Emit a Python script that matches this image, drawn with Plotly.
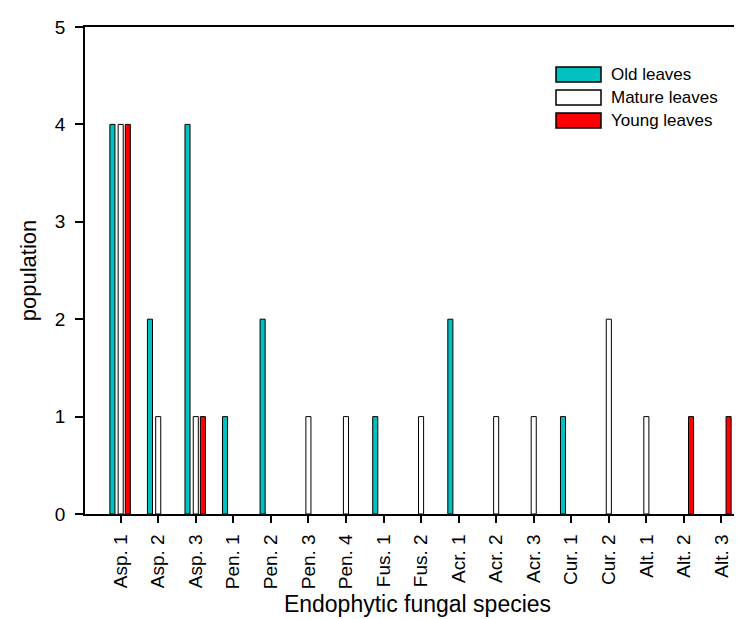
import plotly.graph_objects as go

categories = ["Asp. 1", "Asp. 2", "Asp. 3", "Pen. 1", "Pen. 2", "Pen. 3", "Pen. 4",
              "Fus. 1", "Fus. 2", "Acr. 1", "Acr. 2", "Acr. 3", "Cur. 1", "Cur. 2",
              "Alt. 1", "Alt. 2", "Alt. 3"]
old_leaves = [4, 2, 4, 1, 2, 0, 0, 1, 0, 2, 0, 0, 1, 0, 0, 0, 0]
mature_leaves = [4, 1, 1, 0, 0, 1, 1, 0, 1, 0, 1, 1, 0, 2, 1, 0, 0]
young_leaves = [4, 0, 1, 0, 0, 0, 0, 0, 0, 0, 0, 0, 0, 0, 0, 1, 1]
series_names = ["Old leaves", "Mature leaves", "Young leaves"]
y_ticks = [0, 1, 2, 3, 4, 5]

colors = ["#00C0C0", "#FFFFFF", "#FF0000"]
bar_w = 0.135
centers = [-0.22, 0.0, 0.19]

W, H = 742, 619
L, R, T, B = 77, 0, 19, 113

fig = go.Figure()
for name, vals, col, c in zip(series_names, [old_leaves, mature_leaves, young_leaves], colors, centers):
    fig.add_trace(go.Bar(
        x=categories,
        y=[v if v else None for v in vals],
        name=name,
        marker=dict(color=col, line=dict(color="black", width=1)),
        width=bar_w, offset=c - bar_w / 2,
        showlegend=False,
    ))

fig.update_layout(
    width=W, height=H,
    margin=dict(l=L, r=R, t=T, b=B, autoexpand=False),
    plot_bgcolor="white", paper_bgcolor="white",
    font=dict(family="Liberation Sans, Arial", size=19, color="black"),
    barmode="overlay",
)
fig.update_xaxes(
    range=[-0.95, 16.76], showline=True, linecolor="black", linewidth=1.5, mirror=True,
    ticks="outside", ticklen=7, tickcolor="black", tickwidth=1.5, tickangle=-90,
    ticklabelstandoff=4,
    showgrid=False, zeroline=False, automargin=False,
    tickfont=dict(size=19),
    title=dict(text="Endophytic fungal species", font=dict(size=23), standoff=8),
)
fig.update_yaxes(
    range=[0, 5], tickvals=y_ticks, showline=True, linecolor="black", linewidth=1.5, mirror=False,
    ticks="outside", ticklen=8, tickcolor="black", tickwidth=1.5,
    ticklabelstandoff=6,
    showgrid=False, zeroline=False, automargin=False,
    tickfont=dict(size=19),
    title=dict(text="population", font=dict(size=22), standoff=12),
)

# custom legend with large patches (pixel positions converted to paper coords)
pw = W - L - R
ph = H - T - B
legend_y = [66.5, 89.5, 112.5]
for name, col, yc in zip(series_names, colors, legend_y):
    fig.add_shape(type="rect", xref="paper", yref="paper",
                  x0=(548 - L) / pw, x1=(593 - L) / pw,
                  y0=(H - B - (yc + 7.5)) / ph, y1=(H - B - (yc - 7.5)) / ph,
                  fillcolor=col, line=dict(color="black", width=1.5))
    fig.add_annotation(xref="paper", yref="paper", x=(601 - L) / pw, y=(H - B - yc) / ph,
                       text=name, showarrow=False, xanchor="left", yanchor="middle",
                       font=dict(size=17))

fig.write_html("out.html")
